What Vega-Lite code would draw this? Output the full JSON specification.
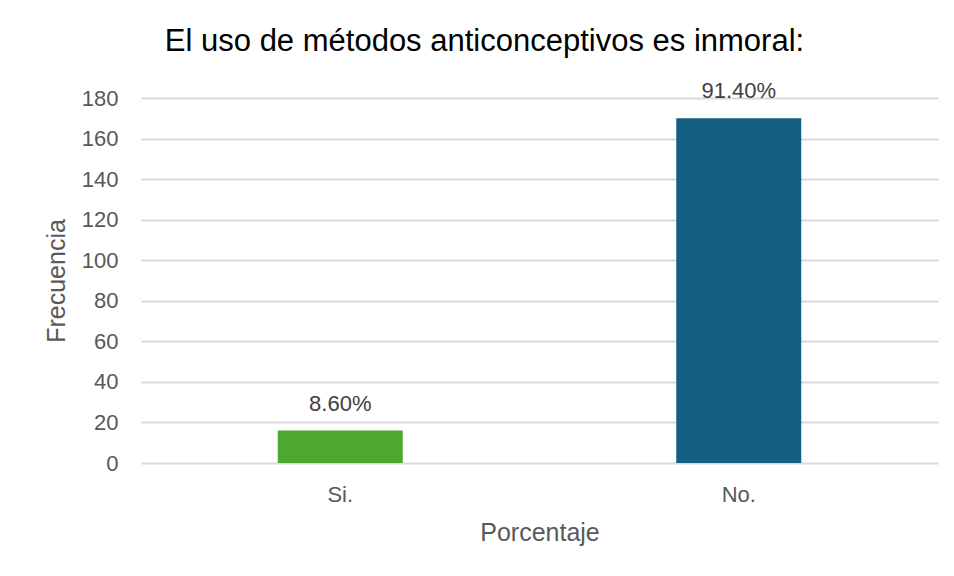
{
  "$schema": "https://vega.github.io/schema/vega-lite/v6.json",
  "autosize": "none",
  "width": 797,
  "height": 365,
  "padding": {"left": 141, "top": 98, "right": 16, "bottom": 113},
  "background": "white",
  "title": {
    "text": "El uso de métodos anticonceptivos es inmoral:",
    "font": "Liberation Sans",
    "fontSize": 31,
    "fontWeight": "normal",
    "color": "#000000",
    "anchor": "middle",
    "frame": "group",
    "offset": 22,
    "dx": -55
  },
  "data": {
    "values": [
      {"respuesta": "Si.", "frecuencia": 16, "porcentaje": "8.60%"},
      {"respuesta": "No.", "frecuencia": 170, "porcentaje": "91.40%"}
    ]
  },
  "encoding": {
    "x": {
      "field": "respuesta",
      "type": "nominal",
      "sort": null,
      "scale": {"paddingInner": 0, "paddingOuter": 0},
      "axis": {
        "title": "Porcentaje",
        "labelAngle": 0,
        "labelFont": "Liberation Sans",
        "labelFontSize": 22,
        "labelColor": "#595959",
        "labelPadding": 21,
        "titleFont": "Liberation Sans",
        "titleFontSize": 25,
        "titleFontWeight": "normal",
        "titleColor": "#595959",
        "titlePadding": 15,
        "domain": false,
        "ticks": false,
        "grid": false
      }
    },
    "y": {
      "field": "frecuencia",
      "type": "quantitative",
      "scale": {"domain": [0, 180]},
      "axis": {
        "title": "Frecuencia",
        "values": [0, 20, 40, 60, 80, 100, 120, 140, 160, 180],
        "labelFont": "Liberation Sans",
        "labelFontSize": 22,
        "labelColor": "#595959",
        "labelPadding": 23,
        "titleFont": "Liberation Sans",
        "titleFontSize": 25,
        "titleFontWeight": "normal",
        "titleColor": "#595959",
        "titlePadding": 12,
        "domain": false,
        "ticks": false,
        "grid": true,
        "gridColor": "#d9d9d9",
        "gridWidth": 2
      }
    }
  },
  "layer": [
    {
      "mark": {"type": "bar", "width": 125},
      "encoding": {
        "color": {
          "field": "respuesta",
          "type": "nominal",
          "scale": {"domain": ["Si.", "No."], "range": ["#4ea72e", "#156082"]},
          "legend": null
        }
      }
    },
    {
      "mark": {
        "type": "text",
        "dy": -27,
        "font": "Liberation Sans",
        "fontSize": 22,
        "color": "#404040"
      },
      "encoding": {
        "text": {"field": "porcentaje", "type": "nominal"}
      }
    }
  ],
  "config": {"view": {"stroke": null}}
}
